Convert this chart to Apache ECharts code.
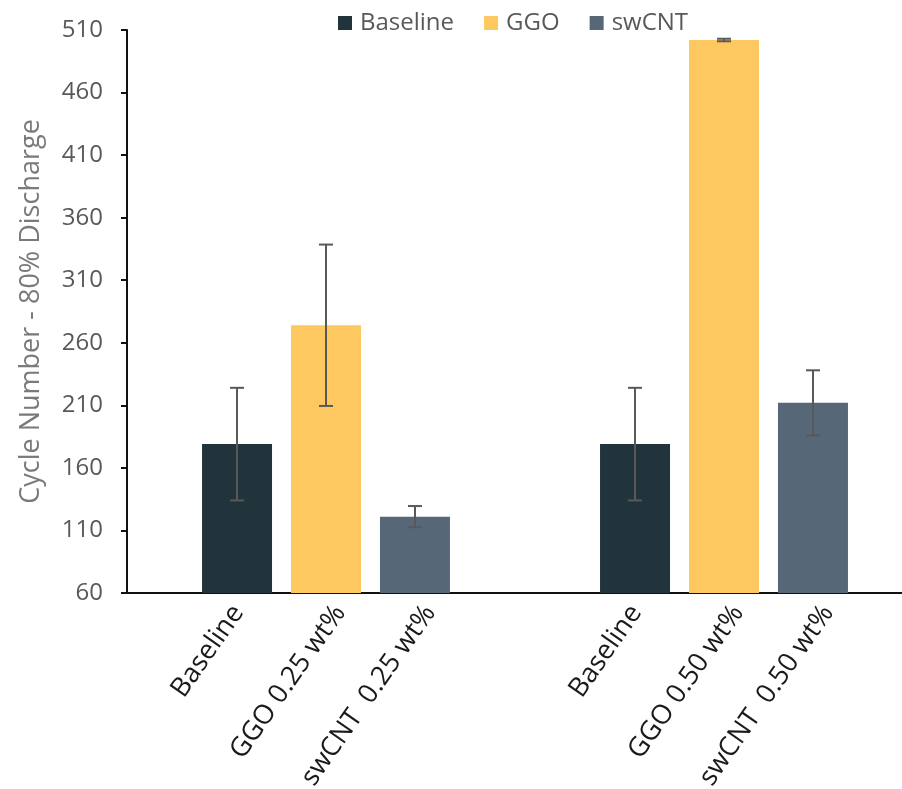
<!DOCTYPE html>
<html>
<head>
<meta charset="utf-8">
<script src="https://cdn.jsdelivr.net/npm/echarts@6/dist/echarts.min.js"></script>
<style>
  html, body { margin: 0; padding: 0; background: #fff; }
  #chart { width: 902px; height: 789px; }
</style>
</head>
<body>
<div id="chart"></div>
<script>
// Loading groups along the category axis
const groups = ['0.25 wt%', '0.50 wt%'];

// Series names (legend order)
const seriesNames = ['Baseline', 'GGO', 'swCNT'];

// Cycle number at 80% discharge, one value per group
const baselineValues = [179, 179];
const ggoValues = [274, 502];
const swcntValues = [121, 212];

// Error bar half-lengths
const baselineErr = [45, 45];
const ggoErr = [64.5, 1];
const swcntErr = [8.5, 26];

// Per-bar category labels shown under the axis
const baselineLabels = ['Baseline', 'Baseline'];
const ggoLabels = ['GGO 0.25 wt%', 'GGO 0.50 wt%'];
const swcntLabels = ['swCNT  0.25 wt%', 'swCNT  0.50 wt%'];

// Y axis range and tick step
const yMin = 60;
const yMax = 510;
const yStep = 50;

const colors = ['#21333b', '#fec861', '#566877'];
const FONT = '"Open Sans", "Noto Sans", sans-serif';
const BAR_W = 70;
const BAR_SPACE = 19;

// Slanted bar labels: angle and where the end of each label sits,
// measured on screen from the bottom centre of its bar
const LABEL_ROT = 55;
const labelNudge = [[1, 15], [14, 15], [15, 15]];

// zrender rotates a label's offset together with the text,
// so turn the on-screen nudge into the label's own frame
function labelOffset(nudge) {
  const r = LABEL_ROT * Math.PI / 180;
  const c = Math.cos(r), s = Math.sin(r);
  return [c * nudge[0] - s * nudge[1], s * nudge[0] + c * nudge[1]];
}

const allValues = [baselineValues, ggoValues, swcntValues];
const allErrs = [baselineErr, ggoErr, swcntErr];
const allLabels = [baselineLabels, ggoLabels, swcntLabels];

const barSeries = seriesNames.map((name, s) => ({
  name: name,
  type: 'bar',
  barWidth: BAR_W,
  barGap: (BAR_SPACE / BAR_W * 100).toFixed(1) + '%',
  itemStyle: { color: colors[s] },
  data: allValues[s].map((v, i) => ({ value: v, name: allLabels[s][i] })),
  label: {
    show: true,
    position: ['50%', '100%'],
    offset: labelOffset(labelNudge[s]),
    rotate: LABEL_ROT,
    align: 'right',
    verticalAlign: 'middle',
    formatter: p => p.name,
    fontFamily: FONT,
    fontSize: 27,
    color: '#1a1a1a'
  },
  emphasis: { disabled: true },
  z: 2
}));

// Error bars drawn on top of the bars, shifted to each bar's slot
const errData = [];
allValues.forEach((vals, s) => {
  vals.forEach((v, i) => errData.push([i, v, allErrs[s][i], s]));
});

const errSeries = {
  type: 'custom',
  name: 'error',
  data: errData,
  z: 5,
  silent: true,
  renderItem: function (params, api) {
    const cat = api.value(0);
    const v = api.value(1);
    const e = api.value(2);
    const s = api.value(3);
    const dx = (s - 1) * (BAR_W + BAR_SPACE);
    const top = api.coord([cat, v + e]);
    const bot = api.coord([cat, v - e]);
    const x = top[0] + dx;
    const cap = 7;
    const style = { stroke: '#595959', lineWidth: 2 };
    return {
      type: 'group',
      children: [
        { type: 'line', shape: { x1: x, y1: top[1], x2: x, y2: bot[1] }, style: style },
        { type: 'line', shape: { x1: x - cap, y1: top[1], x2: x + cap, y2: top[1] }, style: style },
        { type: 'line', shape: { x1: x - cap, y1: bot[1], x2: x + cap, y2: bot[1] }, style: style }
      ]
    };
  }
};

const chart = echarts.init(document.getElementById('chart'), null, { renderer: 'canvas' });
chart.setOption({
  animation: false,
  backgroundColor: '#ffffff',
  textStyle: { fontFamily: FONT },
  legend: {
    data: seriesNames,
    left: 338,
    top: 11,
    padding: 0,
    itemWidth: 14,
    itemHeight: 14,
    itemGap: 30,
    icon: 'rect',
    textStyle: { fontFamily: FONT, fontSize: 24, color: '#595959', padding: [0, 0, 0, 3] }
  },
  // the plot area runs on past the right edge of the page
  grid: { left: 127, width: 796, top: 30, bottom: 196, containLabel: false, outerBoundsMode: 'none' },
  xAxis: {
    type: 'category',
    data: groups,
    axisLine: { show: true, lineStyle: { color: '#111', width: 2 } },
    axisTick: { show: false },
    axisLabel: { show: false },
    splitLine: { show: false }
  },
  yAxis: {
    type: 'value',
    min: yMin,
    max: yMax,
    interval: yStep,
    name: 'Cycle Number - 80% Discharge',
    nameLocation: 'middle',
    nameGap: 82,
    nameTextStyle: { fontFamily: FONT, fontSize: 27, color: '#7a7a7a' },
    axisLine: { show: true, lineStyle: { color: '#111', width: 2 } },
    axisTick: { show: true, length: 6, inside: false, lineStyle: { color: '#111', width: 2 } },
    axisLabel: { fontFamily: FONT, fontSize: 24, color: '#595959', margin: 24 },
    splitLine: { show: false }
  },
  series: [...barSeries, errSeries]
});
</script>
</body>
</html>
